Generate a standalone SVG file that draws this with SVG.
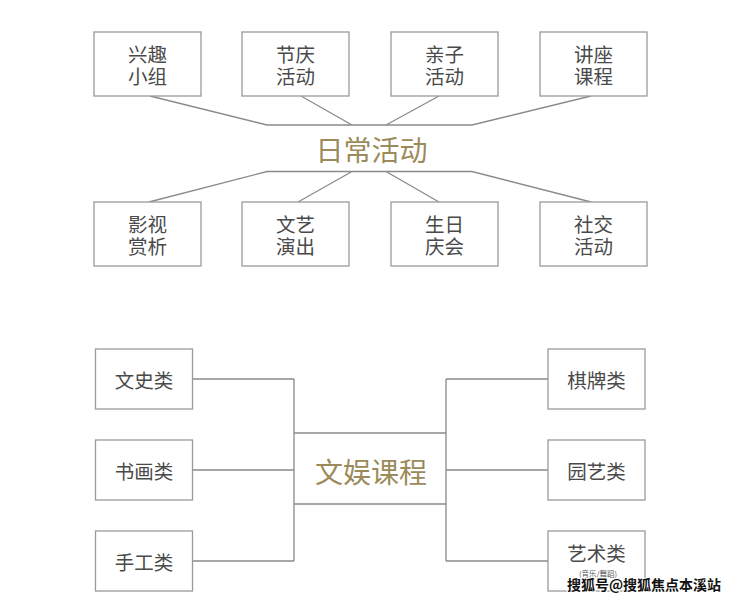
<svg xmlns="http://www.w3.org/2000/svg" width="740" height="602" viewBox="0 0 740 602">
<style>
.box{fill:#fff;stroke:#9a9a9a;stroke-width:1.3}
.ln{stroke:#8a8a8a;stroke-width:1.3;fill:none}
.t{font-family:"Noto Sans CJK SC",sans-serif;font-size:19.5px;fill:#4a4a4a;text-anchor:middle;dominant-baseline:central}
.title{font-family:"Noto Sans CJK SC",sans-serif;font-size:28px;fill:#9b8a5a;text-anchor:middle;dominant-baseline:central}
.small{font-family:"Noto Sans CJK SC",sans-serif;font-size:7.5px;fill:#555;text-anchor:middle;dominant-baseline:central}
.wm{font-family:"Noto Sans CJK SC",sans-serif;font-size:14px;font-weight:bold;fill:#111;stroke:#fff;stroke-width:2.5;paint-order:stroke;dominant-baseline:central}
</style>
<rect width="740" height="602" fill="#fff"/>
<g id="connectors">
<path class="ln" d="M150,96 L267,125 L472,125 L591,96 M301,96 L352,125 M439,96 L386,125"/>
<path class="ln" d="M149,202 L267,171.5 L472,171.5 L591,202 M298,202 L352,171.5 M439,202 L386,171.5"/>
<path class="ln" d="M192.5,379 H294 M192.5,470 H294 M192.5,561 H294 M294,379 V561 M294,433 H446 M294,504 H446 M446,379 V561 M446,379 H548 M446,470 H548 M446,561 H548"/>
</g>
<g id="n-daily"><text class="title" x="371.5" y="149">日常活动</text></g>
<g id="n1"><rect class="box" x="94" y="32" width="107" height="64"/><text class="t" x="147.5" y="53.5">兴趣</text><text class="t" x="147.5" y="75">小组</text></g>
<g id="n2"><rect class="box" x="242" y="32" width="107" height="64"/><text class="t" x="295.5" y="53.5">节庆</text><text class="t" x="295.5" y="75">活动</text></g>
<g id="n3"><rect class="box" x="391" y="32" width="107" height="64"/><text class="t" x="444.5" y="53.5">亲子</text><text class="t" x="444.5" y="75">活动</text></g>
<g id="n4"><rect class="box" x="540" y="32" width="107" height="64"/><text class="t" x="593.5" y="53.5">讲座</text><text class="t" x="593.5" y="75">课程</text></g>
<g id="n5"><rect class="box" x="94" y="202" width="107" height="64"/><text class="t" x="147.5" y="223.5">影视</text><text class="t" x="147.5" y="245">赏析</text></g>
<g id="n6"><rect class="box" x="242" y="202" width="107" height="64"/><text class="t" x="295.5" y="223.5">文艺</text><text class="t" x="295.5" y="245">演出</text></g>
<g id="n7"><rect class="box" x="391" y="202" width="107" height="64"/><text class="t" x="444.5" y="223.5">生日</text><text class="t" x="444.5" y="245">庆会</text></g>
<g id="n8"><rect class="box" x="540" y="202" width="107" height="64"/><text class="t" x="593.5" y="223.5">社交</text><text class="t" x="593.5" y="245">活动</text></g>
<g id="n-courses"><text class="title" x="371" y="470.5">文娱课程</text></g>
<g id="c1"><rect class="box" x="95.5" y="349" width="97" height="60"/><text class="t" x="144" y="379">文史类</text></g>
<g id="c2"><rect class="box" x="95.5" y="440" width="97" height="60"/><text class="t" x="144" y="470">书画类</text></g>
<g id="c3"><rect class="box" x="95.5" y="531" width="97" height="60"/><text class="t" x="144" y="561">手工类</text></g>
<g id="c4"><rect class="box" x="548" y="349" width="97" height="60"/><text class="t" x="596.5" y="379">棋牌类</text></g>
<g id="c5"><rect class="box" x="548" y="440" width="97" height="60"/><text class="t" x="596.5" y="470">园艺类</text></g>
<g id="c6"><rect class="box" x="548" y="531" width="97" height="60"/><text class="t" x="596.5" y="552">艺术类</text><text class="small" x="598" y="573">(音乐/舞蹈)</text></g>
<g id="watermark"><text class="wm" x="567" y="584">搜狐号@搜狐焦点本溪站</text></g>
</svg>
